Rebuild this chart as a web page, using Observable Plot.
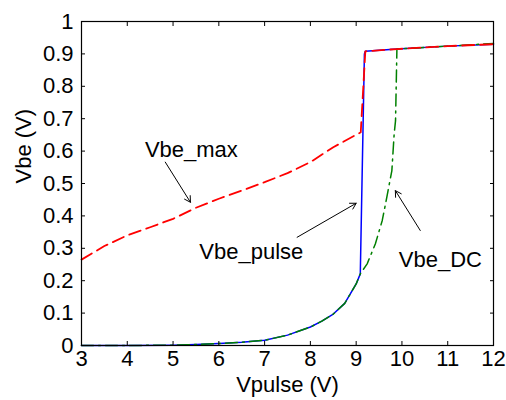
<!DOCTYPE html>
<html><head><meta charset="utf-8">
<script src="https://cdn.jsdelivr.net/npm/d3@7"></script>
<script src="https://cdn.jsdelivr.net/npm/@observablehq/plot@0.6"></script>
<style>html,body{margin:0;padding:0;background:#fff;}</style>
</head><body><div id="chart"></div>
<script>
// Axis ticks
const xTicks = [3, 4, 5, 6, 7, 8, 9, 10, 11, 12];
const xTickLabels = ["3", "4", "5", "6", "7", "8", "9", "10", "11", "12"];
const yTicks = [0, 0.1, 0.2, 0.3, 0.4, 0.5, 0.6, 0.7, 0.8, 0.9, 1];
const yTickLabels = ["0", "0.1", "0.2", "0.3", "0.4", "0.5", "0.6", "0.7", "0.8", "0.9", "1"];
const xLabel = "Vpulse (V)";
const yLabel = "Vbe (V)";

// Vbe_pulse (blue solid)
const pulseX = [3, 4, 5, 5.5, 6, 6.5, 7, 7.5, 8, 8.25, 8.5, 8.75, 9, 9.09, 9.18, 9.2, 9.89, 11, 12];
const pulseY = [0, 0, 0.001, 0.003, 0.006, 0.01, 0.016, 0.032, 0.057, 0.075, 0.097, 0.13, 0.19, 0.221, 0.9, 0.908, 0.915, 0.924, 0.93];

// Vbe_DC (green dash-dot)
const dcX = [3, 4, 5, 5.5, 6, 6.5, 7, 7.5, 8, 8.25, 8.5, 8.75, 9, 9.09, 9.24, 9.42, 9.57, 9.67, 9.78, 9.83, 9.86, 9.89, 11, 12];
const dcY = [0, 0, 0.001, 0.003, 0.006, 0.01, 0.016, 0.032, 0.057, 0.075, 0.097, 0.13, 0.19, 0.221, 0.252, 0.314, 0.386, 0.458, 0.54, 0.653, 0.694, 0.915, 0.924, 0.932];

// Vbe_max (red dashed)
const maxX = [3, 3.5, 4, 4.5, 5, 5.5, 6, 6.5, 7, 7.5, 8, 8.5, 9.1, 9.2, 9.89, 11, 12];
const maxY = [0.265, 0.307, 0.34, 0.365, 0.391, 0.425, 0.453, 0.478, 0.504, 0.532, 0.566, 0.612, 0.658, 0.908, 0.915, 0.924, 0.93];

// Annotations
const noteText = ["Vbe_max", "Vbe_pulse", "Vbe_DC"];
const noteX = [5.40, 6.71, 10.84];
const noteY = [0.603, 0.289, 0.263];
const arrowX1 = [4.83, 7.71, 10.40];
const arrowY1 = [0.566, 0.334, 0.355];
const arrowX2 = [5.38, 9.0, 9.856];
const arrowY2 = [0.442, 0.439, 0.478];

const toPts = (xs, ys) => xs.map((x, i) => ({x, y: ys[i]}));
const pulse = toPts(pulseX, pulseY);
const dc = toPts(dcX, dcY);
const vmax = toPts(maxX, maxY);
const notes = noteText.map((t, i) => ({t, x: noteX[i], y: noteY[i]}));
const arrows = arrowX1.map((x1, i) => ({x1, y1: arrowY1[i], x2: arrowX2[i], y2: arrowY2[i]}));

const chart = Plot.plot({
  width: 506, height: 400,
  marginLeft: 81, marginRight: 13, marginTop: 21, marginBottom: 55,
  style: {fontFamily: "'Liberation Sans', Arial, Helvetica, sans-serif", fontSize: "22px", color: "black", background: "white"},
  x: {domain: [3, 12], axis: null},
  y: {domain: [0, 1], axis: null},
  marks: [
    Plot.line(pulse, {x: "x", y: "y", stroke: "#0000ff", strokeWidth: 1.5}),
    Plot.line(dc, {x: "x", y: "y", stroke: "#008000", strokeWidth: 1.5, strokeDasharray: "12,5,2,5"}),
    Plot.line(vmax, {x: "x", y: "y", stroke: "#ff0000", strokeWidth: 1.8, strokeDasharray: "12,6"}),
    Plot.frame({stroke: "black", strokeWidth: 1.2}),
    Plot.axisX(xTicks, {anchor: "bottom", tickSize: 4, dy: -4, fill: "none", label: null, stroke: "black"}),
    Plot.axisX(xTicks, {anchor: "top", tickSize: 4, dy: 4, fill: "none", label: null, stroke: "black"}),
    Plot.axisY(yTicks, {anchor: "left", tickSize: 4, dx: 4, fill: "none", label: null, stroke: "black"}),
    Plot.axisY(yTicks, {anchor: "right", tickSize: 4, dx: -4, fill: "none", label: null, stroke: "black"}),
    Plot.axisX(xTicks, {anchor: "bottom", tickSize: 0, tickPadding: 5, label: null, fill: "black",
      tickFormat: d => xTickLabels[xTicks.indexOf(d)]}),
    Plot.axisY(yTicks, {anchor: "left", tickSize: 0, tickPadding: 8, label: null, fill: "black",
      tickFormat: d => yTickLabels[yTicks.indexOf(d)]}),
    Plot.text([xLabel], {frameAnchor: "bottom", dy: 46, text: d => d, fill: "black"}),
    Plot.text([yLabel], {frameAnchor: "left", dx: -58, rotate: -90, text: d => d, fill: "black"}),
    Plot.arrow(arrows, {x1: "x1", y1: "y1", x2: "x2", y2: "y2", stroke: "black", strokeWidth: 1, headLength: 10, headAngle: 60}),
    Plot.text(notes, {x: "x", y: "y", text: "t", fill: "black"})
  ]
});
document.getElementById("chart").append(chart);
</script>
</body></html>
